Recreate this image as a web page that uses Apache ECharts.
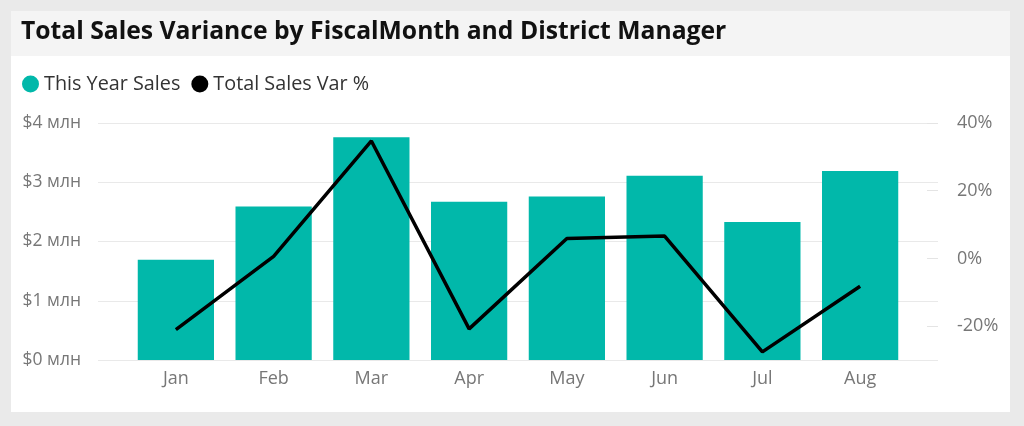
<!DOCTYPE html>
<html>
<head>
<meta charset="utf-8">
<script src="https://cdn.jsdelivr.net/npm/echarts@6/dist/echarts.min.js"></script>
<style>
html,body{margin:0;padding:0;background:#eaeaea;}
#c{width:1024px;height:426px;}
</style>
</head>
<body>
<div id="c"></div>
<script>
const months = ['Jan','Feb','Mar','Apr','May','Jun','Jul','Aug'];
const thisYearSales = [1.69, 2.59, 3.76, 2.67, 2.76, 3.11, 2.33, 3.19];
const totalSalesVarPct = [-21.0, 0.6, 34.7, -20.8, 5.9, 6.6, -27.6, -8.2];
const salesTicks = [0, 1, 2, 3, 4];
const pctTicks = [-20, 0, 20, 40];

const FONT = '"Segoe UI", "Open Sans", "Noto Sans", sans-serif';
const chart = echarts.init(document.getElementById('c'), null, {renderer: 'canvas'});
const option = {
  backgroundColor: '#eaeaea',
  animation: false,
  graphic: [
    {type: 'rect', shape: {x: 11, y: 11, width: 999, height: 401}, style: {fill: '#ffffff'}, z: -10},
    {type: 'rect', shape: {x: 11, y: 11, width: 999, height: 45}, style: {fill: '#f4f4f4'}, z: -9}
  ],
  title: {
    text: 'Total Sales Variance by FiscalMonth and District Manager',
    left: 21, top: 19, padding: 0,
    textStyle: {fontFamily: FONT, fontWeight: 'bold', fontSize: 24.7, color: '#111'}
  },
  legend: {
    left: 22, top: 74, padding: 0,
    icon: 'circle', itemWidth: 17, itemHeight: 17, itemGap: 11,
    textStyle: {fontFamily: FONT, fontSize: 19.8, color: '#333'},
    data: ['This Year Sales', 'Total Sales Var %']
  },
  grid: [
    {left: 98, right: 86, top: 123, bottom: 66},
    {left: 127, right: 115, top: 123, bottom: 66}
  ],
  xAxis: [
    {gridIndex: 0, type: 'value', min: 0, max: 1, show: false},
    {gridIndex: 1, type: 'category', data: months,
      axisLine: {show: false}, axisTick: {show: false},
      axisLabel: {fontFamily: FONT, fontSize: 18, color: '#777', margin: 10}}
  ],
  yAxis: [
    {gridIndex: 0, type: 'value', position: 'left', min: 0, max: 4, interval: 1,
      axisLine: {show: false}, axisTick: {show: false},
      axisLabel: {fontFamily: FONT, fontSize: 17.5, color: '#777', margin: 17,
        formatter: v => '$' + v + ' млн'},
      splitLine: {show: true, lineStyle: {color: '#e9e9e9', width: 1}}},
    {gridIndex: 0, type: 'value', position: 'right', min: -30, max: 40,
      axisLine: {show: false},
      axisTick: {show: true, inside: true, length: 11, customValues: pctTicks, lineStyle: {color: '#e4e4e4'}},
      axisLabel: {fontFamily: FONT, fontSize: 18, color: '#777', margin: 19, customValues: pctTicks,
        formatter: v => v + '%'},
      splitLine: {show: false}},
    {gridIndex: 1, type: 'value', min: 0, max: 4, show: false, splitLine: {show: false}},
    {gridIndex: 1, type: 'value', min: -30, max: 40, show: false, splitLine: {show: false}}
  ],
  series: [
    {name: 'This Year Sales', type: 'bar', xAxisIndex: 1, yAxisIndex: 2,
      data: thisYearSales, barCategoryGap: '22%', itemStyle: {color: '#01B8AA'}},
    {name: 'Total Sales Var %', type: 'line', xAxisIndex: 1, yAxisIndex: 3,
      data: totalSalesVarPct, symbol: 'none', lineStyle: {color: '#000', width: 3.5},
      itemStyle: {color: '#000'}}
  ]
};
chart.setOption(option);
</script>
</body>
</html>
